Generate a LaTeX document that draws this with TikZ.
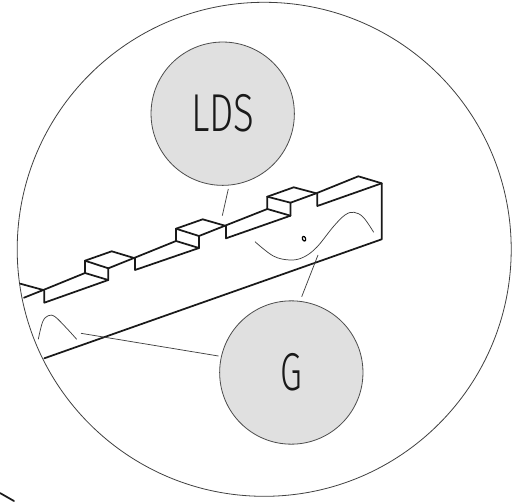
\documentclass[tikz,border=0pt]{standalone}
\usepackage{fontspec}
\newfontfamily\lblfont{Fira Sans Light}
\newcommand{\cond}[2]{\scalebox{#1}[1]{#2}}
\tikzset{
  px/.style={x=0.75pt,y=-0.75pt},
  edge/.style={line width=1.3pt,line join=round,line cap=round,color=black!90},
  thin/.style={line width=0.55pt,color=black!75},
  bubble/.style={circle,draw=black!70,line width=0.6pt,fill=black!12,minimum size=107.5pt,inner sep=0pt},
  lbl/.style={font=\lblfont\fontsize{40}{40}\selectfont,text=black!90}
}
\begin{document}
\begin{tikzpicture}[px]
\useasboundingbox (0,0) rectangle (516,502);
\fill[white] (0,0) rectangle (516,502);
\node[circle,draw=black!75,line width=0.6pt,minimum size=370.5pt,inner sep=0pt] (outer) at (264.2,249.3) {};
\draw[edge] (0,493) -- (14,501);
% left stub
\draw[edge] (20.3,283.7) -- (43.3,290) -- (24,297.7);
\draw[edge] (43.3,290) -- (85,273);
\draw[edge] (44.3,290.7) -- (44.3,302.7) -- (108.3,280) -- (108.3,268.3) -- (134,258);
\draw[edge] (85,273) -- (108.3,280);
\draw[edge] (85,260.7) -- (85,273);
\draw[edge] (85,260.7) -- (108.3,268.3);
\draw[edge] (85,260.7) -- (111.7,251.3) -- (134,258) -- (176,241);
\draw[edge] (135,258) -- (135,270) -- (199,248) -- (199,236) -- (225,225.7);
\draw[edge] (176,228.7) -- (176,241) -- (199,248);
\draw[edge] (176,228.7) -- (199,236);
\draw[edge] (176,228.7) -- (202.7,219.3) -- (225,225.7) -- (267.3,209);
\draw[edge] (226,225.7) -- (226,238.3) -- (290.5,215.7) -- (290.5,202.7) -- (316.3,193.3);
\draw[edge] (267.3,196.7) -- (267.3,209) -- (290.5,215.7);
\draw[edge] (267.3,196.7) -- (290.5,202.7);
\draw[edge] (267.3,196.7) -- (293.7,187.3) -- (316.3,193.3) -- (358.3,176.3) -- (381.7,183.3) -- (381.7,239.3) -- (44.3,358.3);
\draw[edge] (317.3,193.3) -- (317.3,206) -- (381.7,183.3);
\draw[line width=0.9pt,rotate around={20:(304,238.7)}] (304,238.7) ellipse [x radius=1.6,y radius=2.4];
\draw[thin] plot[smooth,tension=0.6] coordinates {(255,241.7) (273.3,256) (290,260) (303.3,257.3) (316.7,247.3) (333.3,226.7) (345,215) (354,212.3) (363.3,217.3) (373.7,232.3)};
\draw[thin] plot[smooth,tension=0.6] coordinates {(38.3,339.3) (42.7,321.7) (48.3,315.7) (55,316.7) (66.7,328.3) (76.7,339.3)};
\node[bubble,lbl] (lds) at (222.7,113.7) {\cond{0.72}{LDS}};
\node[bubble,lbl] (g) at (291.3,372.5) {\cond{0.66}{G}};
\coordinate (ldsEnd) at (222.3,215.7);
\coordinate (gA) at (81,333.3);
\coordinate (gB) at (318,255);
\draw[thin] (228.3,189) -- (ldsEnd);
\draw[thin] (218.5,356) -- (gA);
\draw[thin] (301.7,296.7) -- (gB);
\end{tikzpicture}
\end{document}
